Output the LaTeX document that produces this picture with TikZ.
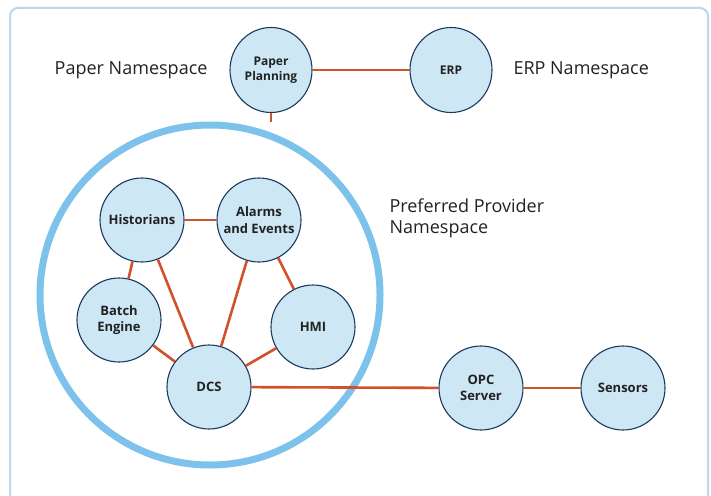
\documentclass[tikz,border=0pt]{standalone}
\usepackage{fontspec}
\setmainfont{Open Sans}
\usetikzlibrary{shapes.geometric}
\definecolor{nodefill}{HTML}{CDE7F5}
\definecolor{nodeedge}{HTML}{1B3A5E}
\definecolor{edgecol}{HTML}{D2512A}
\definecolor{framecol}{HTML}{BCD7EC}
\definecolor{bigcirc}{HTML}{7DC2EA}
\definecolor{txt}{HTML}{222222}
\begin{document}
\begin{tikzpicture}[x=1pt,y=-1pt,
  sys/.style={circle,draw=nodeedge,fill=nodefill,line width=1.1pt,minimum size=84pt,inner sep=0pt,align=center,text=txt,font=\fontsize{13}{16.5}\selectfont\bfseries},
  sysell/.style={ellipse,draw=nodeedge,fill=nodefill,line width=1.1pt,minimum width=82pt,minimum height=85pt,inner sep=0pt,align=center,text=txt,font=\fontsize{12}{14.5}\selectfont\bfseries},
  link/.style={draw=edgecol,line width=2.6pt},
  nslabel/.style={text=txt,font=\fontsize{18}{21}\selectfont,align=left}]
\useasboundingbox (0,0) rectangle (711,495);
\draw[framecol,line width=2pt,rounded corners=8pt] (10,503) -- (10,8) -- (708,8) -- (708,503);
% big namespace circle
\node[circle,draw=bigcirc,line width=7pt,minimum size=340pt,inner sep=0pt] (pref) at (210,295) {};
% nodes
\node[sysell] (pp) at (271,70) {Paper\\Planning};
\node[sysell] (erp) at (451,70) {ERP};
\node[sys] (hist) at (142,220) {Historians};
\node[sys] (alarm) at (259,220) {Alarms\\and Events};
\node[sys] (batch) at (119,320) {Batch\\Engine};
\node[sys] (hmi) at (313,327) {HMI};
\node[sys] (dcs) at (209,387) {DCS};
\node[sys] (opc) at (481,388) {OPC\\Server};
\node[sys] (sens) at (623,388) {Sensors};
% labels
\node[nslabel,anchor=east] (lpaper) at (211,70) {Paper Namespace};
\node[nslabel,anchor=west] (lerp) at (510,70) {ERP Namespace};
\node[nslabel,anchor=west] (lpref) at (386,218) {Preferred Provider\\Namespace};
% connectors
\path[link] (pp) -- (erp);
\path[link] (pp.south) -- (pp.south |- pref.north);
\path[link] (hist) -- (alarm);
\path[link] (hist) -- (batch);
\path[link] (hist) -- (dcs);
\path[link] (alarm) -- (dcs);
\path[link] (alarm) -- (hmi);
\path[link] (batch) -- (dcs);
\path[link] (hmi) -- (dcs);
\path[link] (dcs) -- (opc);
\path[link] (opc) -- (sens);
\end{tikzpicture}
\end{document}
